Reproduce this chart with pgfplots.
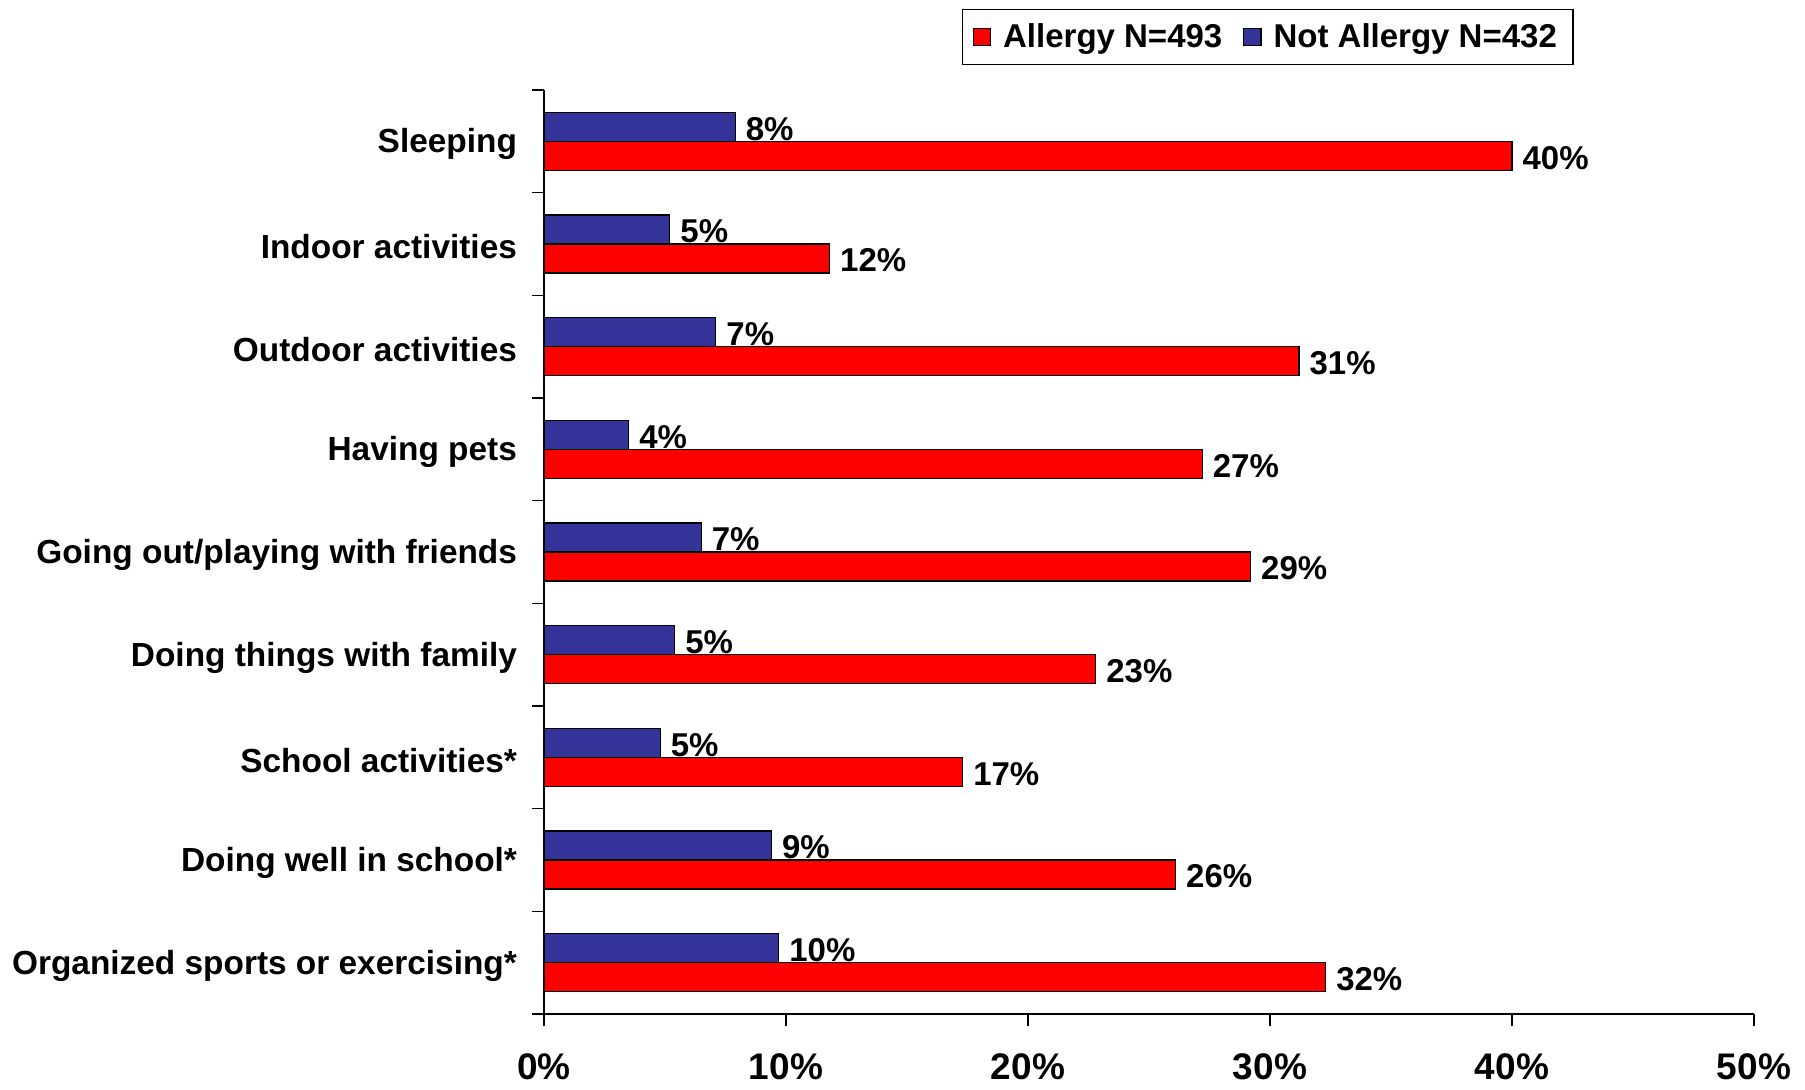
\documentclass[border=0pt]{standalone}
\usepackage{pgfplots}
\pgfplotsset{compat=1.18}
\usepackage{pgfplotstable}
\usepackage{fontspec}
\setmainfont{Liberation Sans}
\definecolor{allred}{RGB}{255,0,0}
\definecolor{notblue}{RGB}{51,51,153}
\pgfplotsset{mysq/.style={legend image code/.code={\draw[##1] (0pt,-4.3pt) rectangle (8.6pt,4.3pt);}}}

\pgfplotstableread{
y a al n nl
8 40.0 40 7.9 8
7 11.8 12 5.2 5
6 31.2 31 7.1 7
5 27.2 27 3.5 4
4 29.2 29 6.5 7
3 22.8 23 5.4 5
2 17.3 17 4.8 5
1 26.1 26 9.4 9
0 32.3 32 9.7 10
}\datatable

\begin{document}
\begin{tikzpicture}
\useasboundingbox (-272pt,-37.5pt) rectangle (630.5pt,507pt);
\begin{axis}[
  at={(0,0)}, anchor=south west,
  scale only axis, width=605pt, height=462pt,
  xbar, bar width=14.5pt,
  xmin=0, xmax=50, ymin=-0.5, ymax=8.5,
  axis x line*=bottom, axis y line*=left,
  axis line style={line width=0.7pt, black},
  tick align=outside, major tick length=6pt,
  tick style={line width=0.7pt, black},
  xtick={0,10,...,50},
  xticklabel={\pgfmathprintnumber{\tick}\%},
  /pgf/number format/assume math mode=true,
  xticklabel style={font=\fontsize{18.5}{22}\selectfont\bfseries, yshift=-10.5pt},
  ytick={-0.5,0.5,...,8.5},
  yticklabels={,,,,,,,,,},
  extra y ticks={0,1,2,3,4,5,6,7,8},
  extra y tick labels={Organized sports or exercising*, Doing well in school*, School activities*, Doing things with family, Going out/playing with friends, Having pets, Outdoor activities, Indoor activities, Sleeping},
  extra y tick style={tick style={draw=none}},
  yticklabel style={font=\fontsize{16.7}{20}\selectfont\bfseries, xshift=-4pt, yshift=-1.5pt},
  nodes near coords={\pgfplotspointmeta\%},
  nodes near coords style={font=\fontsize{16.5}{19.8}\selectfont\bfseries, anchor=west, inner xsep=4pt, xshift=1pt, yshift=-1pt, black},
  legend columns=2,
  legend style={at={(0.3455,1.0877)}, anchor=north west, draw=black, line width=0.7pt,
    font=\fontsize{16.5}{19.8}\selectfont\bfseries, inner xsep=5pt, inner ysep=4pt,
    nodes={inner xsep=3pt, inner ysep=3pt},
    /tikz/every odd column/.append style={column sep=3pt},
    /tikz/every even column/.append style={column sep=7.4pt}},
]
\addplot[fill=allred, draw=black, line width=0.6pt, bar shift=-7.25pt,
  point meta=explicit symbolic, mysq]
  table[x=a, y=y, meta=al] {\datatable};
\addlegendentry{Allergy N=493}
\addplot[fill=notblue, draw=black, line width=0.6pt, bar shift=7.25pt,
  point meta=explicit symbolic, mysq]
  table[x=n, y=y, meta=nl] {\datatable};
\addlegendentry{Not Allergy N=432}
\end{axis}
\end{tikzpicture}
\end{document}
